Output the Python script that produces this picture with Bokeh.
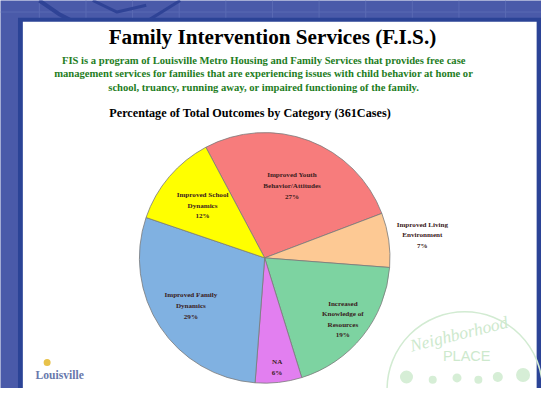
import numpy as np
from bokeh.plotting import figure
from bokeh.models import Range1d
from bokeh.core.properties import value
from bokeh.embed import file_html
from bokeh.resources import INLINE

# ---- data ----
title = "Family Intervention Services (F.I.S.)"
subtitle_lines = [
    "FIS is a program of Louisville Metro Housing and Family Services that provides free case",
    "management services for families that are experiencing issues with child behavior at home or",
    "school, truancy, running away, or impaired functioning of the family.",
]
chart_title = "Percentage of Total Outcomes by Category (361Cases)"
categories = ["Improved Youth Behavior/Attitudes", "Improved Living Environment",
              "Increased Knowledge of Resources", "NA",
              "Improved Family Dynamics", "Improved School Dynamics"]
label_lines = [["Improved Youth", "Behavior/Attitudes"],
               ["Improved Living", "Environment"],
               ["Increased", "Knowledge of", "Resources"],
               ["NA"],
               ["Improved Family", "Dynamics"],
               ["Improved School", "Dynamics"]]
percents = [27, 7, 19, 6, 29, 12]

# ---- styles / layout ----
colors = ["#f77c7c", "#fdc994", "#7dd3a1", "#e27ff0", "#80b1e1", "#ffff00"]
label_radius = [80, 164, 103, 115, 91, 84]
W, H = 541, 388
RW, RH = 557, 404          # reference canvas, mapped onto the figure
K = (W / RW + H / RH) / 2  # font scale
SERIF = value("Liberation Serif")


def fs(px):
    return f"{px * K:.1f}px"


def Y(sy):
    return RH - sy


p = figure(width=W, height=H, output_backend="svg", toolbar_location=None,
           x_range=Range1d(0, RW), y_range=Range1d(0, RH),
           min_border=0, outline_line_color=None)
p.axis.visible = False
p.grid.visible = False
p.background_fill_color = "#4a5aa9"
p.border_fill_color = "#4a5aa9"

# background decoration
for gx in range(40, 560, 48):
    p.segment(x0=gx, y0=Y(0), x1=gx, y1=Y(22), line_color="#5a6ab4", line_width=1)
p.segment(x0=0, y0=Y(12), x1=557, y1=Y(12), line_color="#5a6ab4", line_width=1)
p.line(x=[40, 60, 75], y=[Y(0), Y(14), Y(22)], line_color="#2f4396", line_width=4)
p.line(x=[95, 120, 150], y=[Y(0), Y(12), Y(5)], line_color="#2f4396", line_width=3)
p.line(x=[150, 185], y=[Y(22), Y(0)], line_color="#2f4396", line_width=3)
p.quad(left=18, right=557, bottom=Y(404), top=Y(18), fill_color="#2b4396", line_color=None)
p.quad(left=23, right=552, bottom=Y(404), top=Y(22), fill_color="white", line_color=None)

# titles
p.text(x=[280], y=[Y(38)], text=[title], text_font=SERIF, text_font_style="bold",
       text_font_size=fs(22), text_align="center", text_baseline="middle", text_color="black")
for i, ln in enumerate(subtitle_lines):
    p.text(x=[271], y=[Y(62 + i * 14.5)], text=[ln], text_font=SERIF, text_font_style="bold",
           text_font_size=fs(11), text_align="center", text_baseline="middle", text_color="#1e7d1e")
p.text(x=[257], y=[Y(117)], text=[chart_title], text_font=SERIF, text_font_style="bold",
       text_font_size=fs(12.6), text_align="center", text_baseline="middle", text_color="black")

# pie
cx, cy, r = 272, Y(268), 129
start = np.radians(118)
vals = np.array(percents, dtype=float)
cum = np.concatenate([[0], np.cumsum(vals)]) / vals.sum() * 2 * np.pi
starts = start - cum[:-1]
ends = start - cum[1:]
p.wedge(x=cx, y=cy, radius=r, start_angle=starts, end_angle=ends, direction="clock",
        fill_color=colors, line_color="#7a7a7a", line_width=0.8)

mids = (starts + ends) / 2
for k in range(len(percents)):
    lines = label_lines[k] + [f"{percents[k]}%"]
    lx = cx + label_radius[k] * np.cos(mids[k])
    ly = cy + label_radius[k] * np.sin(mids[k])
    n = len(lines)
    for j, ln in enumerate(lines):
        p.text(x=[lx], y=[ly - (j - (n - 1) / 2) * 11], text=[ln], text_font=SERIF,
               text_font_style="bold", text_font_size=fs(7.4), text_align="center",
               text_baseline="middle", text_color="#3a2020")

# logos (decorative)
p.text(x=[61], y=[Y(390)], text=["Louisville"], text_font=SERIF, text_font_style="bold",
       text_font_size=fs(12), text_align="center", text_baseline="middle", text_color="#6878ac")
p.scatter(x=[48], y=[Y(377)], marker="circle", size=7, fill_color="#e8c24a", line_color=None)
p.arc(x=478, y=Y(405), radius=80, start_angle=np.radians(0), end_angle=np.radians(180),
      line_color="#d2ebd2", line_width=1.5)
p.text(x=[472], y=[Y(347)], text=["Neighborhood"], text_font=SERIF,
       text_font_style="italic", text_font_size=fs(18), text_align="center",
       text_baseline="middle", text_color="#cde9cd", angle=np.radians(14))
p.text(x=[480], y=[Y(370)], text=["PLACE"], text_font=value("Liberation Sans"),
       text_font_size=fs(15), text_align="center", text_baseline="middle", text_color="#cde9cd")
p.scatter(x=[418, 445, 470, 492, 512, 538], y=[Y(392), Y(395), Y(393), Y(395), Y(392), Y(390)],
          marker="circle", size=[13, 8, 9, 8, 10, 14], fill_color="#d6eed6", line_color=None)

open("out.html", "w").write(file_html(p, INLINE))
